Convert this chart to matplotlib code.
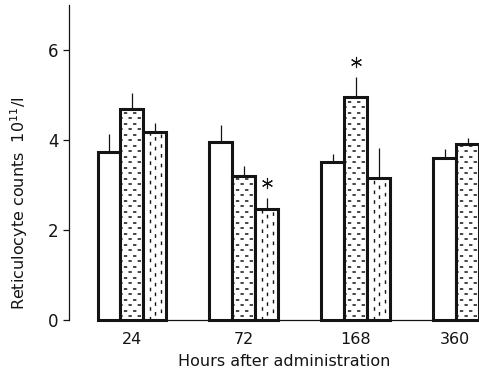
import matplotlib
matplotlib.use("Agg")
import matplotlib.pyplot as plt
import matplotlib.transforms as mtransforms
import numpy as np

plt.rcParams['font.family'] = ['DejaVu Sans']
plt.rcParams['lines.scale_dashes'] = False

hours = ['24', '72', '168', '360']

# mean reticulocyte counts (10^11/l) and upper SD for the three groups
control = [3.73, 3.96, 3.51, 3.60]
control_sd = [0.40, 0.37, 0.18, 0.20]
treat_a = [4.69, 3.20, 4.96, 3.91]
treat_a_sd = [0.35, 0.22, 0.44, 0.13]
treat_b = [4.17, 2.46, 3.15, np.nan]
treat_b_sd = [0.21, 0.25, 0.67, np.nan]

# significant differences (marked with an asterisk)
treat_a_sig = [False, False, True, False]
treat_b_sig = [False, True, False, False]

ink = '#141414'
width = 0.205

fig = plt.figure(figsize=(4.79, 3.76), dpi=100)
ax = fig.add_axes([0.144, 0.149, 0.856, 0.838])
ax.set_xlim(-0.5625, 3.10)
ax.set_ylim(0, 7)

x = np.arange(len(hours))


def dash_fill(patch, kind):
    # short dashes inside a bar, clipped to the bar outline
    x0, w, h = patch.get_x(), patch.get_width(), patch.get_height()
    if np.isnan(h) or h <= 0:
        return
    if kind == 'h':
        step = 5.5 / 45.0
        rows = np.arange(step * 0.7, h, step)
        for i, yy in enumerate(rows):
            off = 0.5 if i % 2 == 0 else 3.8
            ln, = ax.plot([x0, x0 + w], [yy, yy], color=ink, lw=1.1,
                          linestyle=(off, (2.4, 4.2)), zorder=2,
                          solid_capstyle='butt')
            ln.set_clip_path(patch)
    else:
        for j, frac in enumerate([0.28, 0.52, 0.76]):
            xx = x0 + w * frac
            off = [0, 3.5, 1.7][j]
            ln, = ax.plot([xx, xx], [0, h], color=ink, lw=1.0,
                          linestyle=(off, (2.6, 4.4)), zorder=2,
                          solid_capstyle='butt')
            ln.set_clip_path(patch)


series = [
    (control, control_sd, -width, None),
    (treat_a, treat_a_sd, 0.0, 'h'),
    (treat_b, treat_b_sd, width, 'v'),
]

for vals, sd, shift, kind in series:
    bars = ax.bar(x + shift, vals, width, color='white', edgecolor=ink,
                  linewidth=2.2, zorder=1, clip_on=False)
    if kind is not None:
        for p in bars.patches:
            dash_fill(p, kind)
    ax.errorbar(x + shift, vals, yerr=[np.zeros(len(vals)), sd], fmt='none',
                ecolor=ink, elinewidth=0.9, capsize=0, zorder=3, clip_on=False)

# asterisks above the error bars
for vals, sd, shift, sig in [(treat_a, treat_a_sd, 0.0, treat_a_sig),
                             (treat_b, treat_b_sd, width, treat_b_sig)]:
    for i in range(len(hours)):
        if sig[i]:
            ax.plot(x[i] + shift, vals[i] + sd[i] + 0.34, marker=(6, 2, 0),
                    ms=8, mew=0.8, color=ink, zorder=4)

ax.spines['top'].set_visible(False)
ax.spines['right'].set_visible(False)
ax.spines['left'].set_color(ink)
ax.spines['left'].set_linewidth(0.9)
ax.spines['bottom'].set_color(ink)
ax.spines['bottom'].set_linewidth(0.9)
ax.spines['bottom'].set_bounds(-1.5 * width, 3.10)

ax.set_yticks([0, 2, 4, 6])
ax.tick_params(axis='y', direction='out', length=4.5, width=0.9,
               color=ink, labelcolor=ink, labelsize=12, pad=3)
ax.set_xticks(x)
ax.set_xticklabels(hours)
ax.tick_params(axis='x', length=0, labelcolor=ink, labelsize=11.5, pad=9)

# last label sits a little left so it stays inside the figure
last = ax.get_xticklabels()[-1]
last.set_transform(last.get_transform() +
                   mtransforms.ScaledTranslation(-9 / 72, 0, fig.dpi_scale_trans))

ax.set_xlabel('Hours after administration', fontsize=11.5, color=ink)
ax.xaxis.set_label_coords(0.524, -0.108)
ax.set_ylabel('Reticulocyte counts  $10^{11}$/l', fontsize=11.5, color=ink)
ax.yaxis.set_label_coords(-0.095, 0.37)

fig.savefig('out.png', dpi=100)
